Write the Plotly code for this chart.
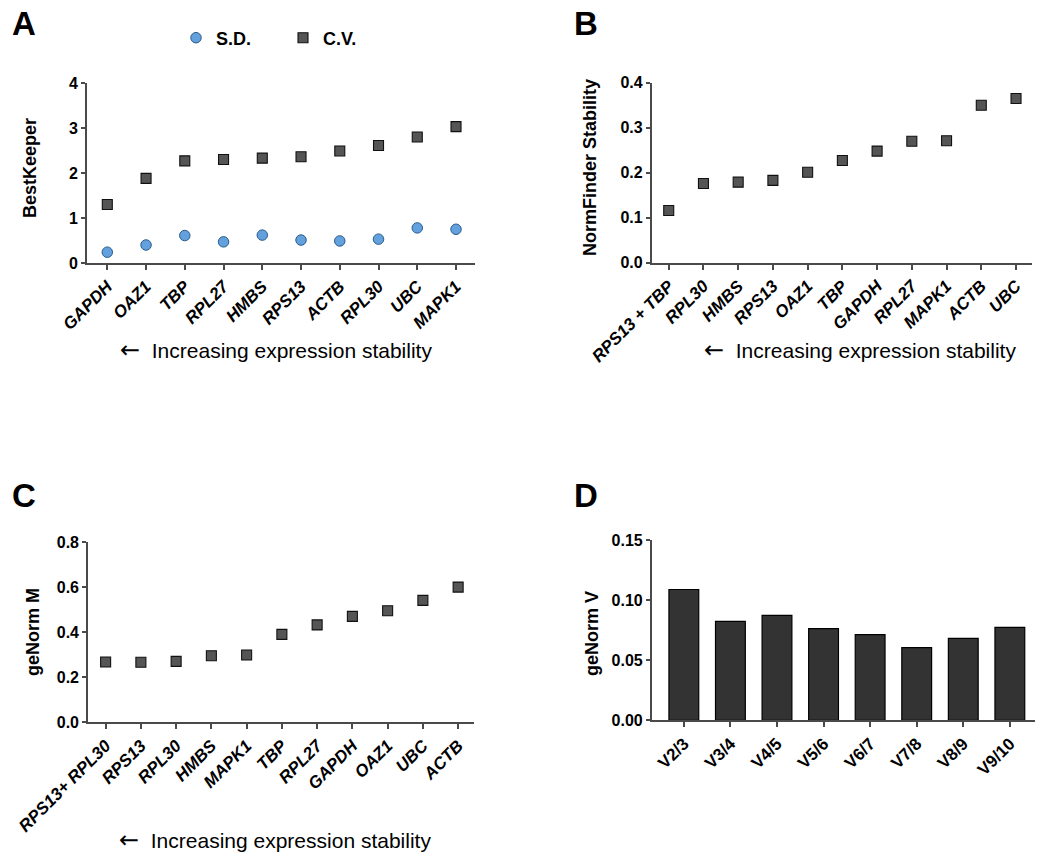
import plotly.graph_objects as go

# ---- data ----
genes_a = ["GAPDH", "OAZ1", "TBP", "RPL27", "HMBS", "RPS13", "ACTB", "RPL30", "UBC", "MAPK1"]
sd_a = [0.24, 0.40, 0.61, 0.47, 0.62, 0.51, 0.49, 0.53, 0.78, 0.75]
cv_a = [1.30, 1.88, 2.27, 2.30, 2.33, 2.36, 2.49, 2.61, 2.80, 3.03]

genes_b = ["RPS13 + TBP", "RPL30", "HMBS", "RPS13", "OAZ1", "TBP", "GAPDH", "RPL27", "MAPK1", "ACTB", "UBC"]
stab_b = [0.116, 0.176, 0.179, 0.183, 0.201, 0.227, 0.248, 0.270, 0.271, 0.350, 0.365]

genes_c = ["RPS13+ RPL30", "RPS13", "RPL30", "HMBS", "MAPK1", "TBP", "RPL27", "GAPDH", "OAZ1", "UBC", "ACTB"]
m_c = [0.268, 0.267, 0.271, 0.296, 0.299, 0.391, 0.433, 0.471, 0.496, 0.542, 0.601]

pairs_d = ["V2/3", "V3/4", "V4/5", "V5/6", "V6/7", "V7/8", "V8/9", "V9/10"]
v_d = [0.109, 0.0825, 0.0875, 0.0764, 0.0714, 0.0606, 0.0683, 0.0775]

# ---- style ----
W, H = 1050, 859
FONT = "Liberation Sans, Arial, sans-serif"
AX = "#4a4a4a"
SQ_FILL = "#555555"
SQ_LINE = "#111111"
CI_FILL = "#62A0DE"
CI_LINE = "#2B5C8A"


def fx(px):
    return px / W


def fy(py):
    return 1 - py / H


fig = go.Figure()

fig.add_trace(go.Scatter(x=genes_a, y=sd_a, mode="markers", name="S.D.",
                         marker=dict(symbol="circle", size=10.5, color=CI_FILL,
                                     line=dict(color=CI_LINE, width=1)),
                         xaxis="x", yaxis="y"))
fig.add_trace(go.Scatter(x=genes_a, y=cv_a, mode="markers", name="C.V.",
                         marker=dict(symbol="square", size=10, color=SQ_FILL,
                                     line=dict(color=SQ_LINE, width=1.1)),
                         xaxis="x", yaxis="y"))
fig.add_trace(go.Scatter(x=genes_b, y=stab_b, mode="markers", showlegend=False,
                         marker=dict(symbol="square", size=10, color=SQ_FILL,
                                     line=dict(color=SQ_LINE, width=1.1)),
                         xaxis="x2", yaxis="y2"))
fig.add_trace(go.Scatter(x=genes_c, y=m_c, mode="markers", showlegend=False,
                         marker=dict(symbol="square", size=10, color=SQ_FILL,
                                     line=dict(color=SQ_LINE, width=1.1)),
                         xaxis="x3", yaxis="y3"))
fig.add_trace(go.Bar(x=pairs_d, y=v_d, showlegend=False, width=0.64,
                     marker=dict(color="#333333", line=dict(color="#000000", width=1.2)),
                     xaxis="x4", yaxis="y4"))

ytickfont = dict(family=FONT, size=16, color="#000000", weight="bold")
dtickfont = dict(family=FONT, size=17, color="#000000", weight="bold")
gene_tickfont = dict(family=FONT, size=17, color="#000000", weight="bold", style="italic")


def xax(domain, rng, anchor, font):
    return dict(domain=domain, range=rng, type="category", anchor=anchor, automargin=False,
                showline=True, linecolor=AX, linewidth=1.6, ticks="outside",
                ticklen=5, tickwidth=1.5, tickcolor=AX, tickangle=-45,
                tickfont=font, showgrid=False, zeroline=False, fixedrange=True)


def yax(domain, rng, dtick, fmt, anchor):
    return dict(domain=domain, range=rng, dtick=dtick, tick0=0, tickformat=fmt,
                anchor=anchor, automargin=False, showline=True, linecolor=AX, linewidth=1.6,
                ticks="outside", ticklen=4, tickwidth=1.5, tickcolor=AX,
                tickfont=ytickfont, showgrid=False, zeroline=False, fixedrange=True)


fig.update_layout(
    width=W, height=H, margin=dict(l=0, r=0, t=0, b=0, autoexpand=False),
    paper_bgcolor="white", plot_bgcolor="white",
    font=dict(family=FONT, color="#000000"),
    xaxis=xax([fx(87), fx(475)], [-0.524, 9.49], "y", gene_tickfont),
    yaxis=yax([fy(263), fy(83)], [0, 4], 1, "d", "x"),
    xaxis2=xax([fx(651.7), fx(1032)], [-0.49, 10.46], "y2", gene_tickfont),
    yaxis2=yax([fy(262.7), fy(82.7)], [0, 0.4], 0.1, ".1f", "x2"),
    xaxis3=xax([fx(88), fx(474)], [-0.5, 10.45], "y3", gene_tickfont),
    yaxis3=yax([fy(722.3), fy(542.3)], [0, 0.8], 0.2, ".1f", "x3"),
    xaxis4=xax([fx(651.7), fx(1035)], [-0.69, 7.54], "y4", dtickfont),
    yaxis4=yax([fy(720.3), fy(540.3)], [0, 0.15], 0.05, ".2f", "x4"),
    showlegend=True,
    legend=dict(orientation="h", x=fx(176), y=fy(38), xanchor="left", yanchor="middle",
                font=dict(family=FONT, size=18, weight="bold", color="#000000"),
                entrywidth=62, entrywidthmode="pixels", bgcolor="rgba(0,0,0,0)",
                itemclick=False, itemdoubleclick=False),
)

annotations = []
# panel letters
for letter, x, y in [("A", 24, 24), ("B", 586, 24), ("C", 24, 495), ("D", 586, 495)]:
    annotations.append(dict(text=letter, x=fx(x), y=fy(y), xref="paper", yref="paper",
                            showarrow=False, xanchor="center", yanchor="middle",
                            font=dict(family=FONT, size=33, weight="bold", color="#000000")))
# y-axis titles
for title, x, y in [("BestKeeper", 30, 168), ("NormFinder Stability", 590, 168),
                    ("geNorm M", 33, 632), ("geNorm V", 592, 634)]:
    annotations.append(dict(text=title, x=fx(x), y=fy(y), xref="paper", yref="paper",
                            showarrow=False, textangle=-90, xanchor="center", yanchor="middle",
                            font=dict(family=FONT, size=18, weight="bold", color="#000000")))
# stability notes
note = ("<span style='font-family:DejaVu Sans;font-size:24px'>\u2190</span>"
        "  Increasing expression stability")
for x, y in [(276, 350), (860, 350), (275, 840)]:
    annotations.append(dict(text=note, x=fx(x), y=fy(y),
                            xref="paper", yref="paper", showarrow=False,
                            xanchor="center", yanchor="middle",
                            font=dict(family=FONT, size=21, color="#000000")))
fig.update_layout(annotations=annotations)

fig.write_html("out.html", config={"displayModeBar": False},
               post_script="document.body.style.margin='0';document.body.style.padding='0';")
